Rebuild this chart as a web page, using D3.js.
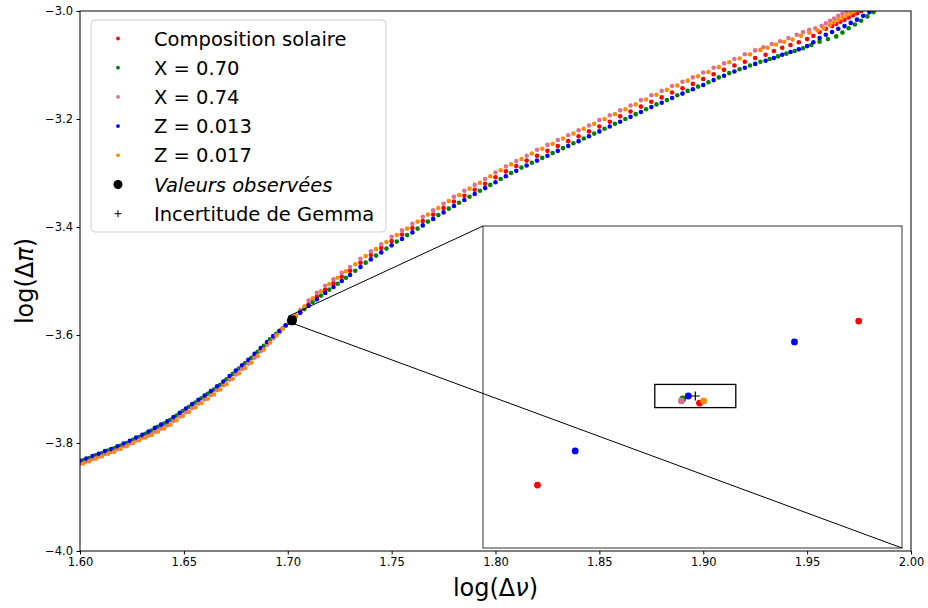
<!DOCTYPE html>
<html>
<head>
<meta charset="utf-8">
<script src="https://cdn.jsdelivr.net/npm/d3@7"></script>
<style>
  body { margin: 0; background: #fff; }
  text { font-family: "DejaVu Sans", sans-serif; }
</style>
</head>
<body>
<svg id="chart" width="928" height="608"></svg>
<script>
// Evolutionary tracks: [log(Δν), log(ΔΠ)] for each model grid
const solarPts = [
  [1.600,-3.837],[1.603,-3.833],[1.606,-3.828],[1.609,-3.824],[1.612,-3.819],[1.615,-3.815],[1.618,-3.810],
  [1.621,-3.805],[1.624,-3.800],[1.627,-3.794],[1.630,-3.789],[1.633,-3.784],[1.636,-3.777],[1.639,-3.771],
  [1.642,-3.765],[1.645,-3.757],[1.648,-3.749],[1.651,-3.741],[1.654,-3.733],[1.657,-3.725],[1.660,-3.717],
  [1.663,-3.709],[1.666,-3.700],[1.669,-3.691],[1.672,-3.681],[1.675,-3.671],[1.678,-3.661],[1.681,-3.651],
  [1.684,-3.640],[1.687,-3.628],[1.690,-3.617],[1.693,-3.605],[1.696,-3.594],[1.699,-3.583],
  [1.70089,-3.57707],[1.70205,-3.57325],[1.70319,-3.56943],
  [1.706,-3.558],[1.710,-3.543],[1.714,-3.529],[1.718,-3.516],[1.722,-3.504],[1.726,-3.492],[1.730,-3.481],
  [1.735,-3.466],[1.740,-3.452],[1.745,-3.439],[1.750,-3.426],[1.755,-3.414],[1.760,-3.402],[1.765,-3.389],
  [1.770,-3.377],[1.775,-3.365],[1.780,-3.353],[1.785,-3.342],[1.790,-3.331],[1.795,-3.320],[1.800,-3.308],
  [1.805,-3.297],[1.810,-3.287],[1.815,-3.277],[1.820,-3.268],[1.825,-3.259],[1.830,-3.250],[1.835,-3.241],
  [1.840,-3.232],[1.845,-3.223],[1.850,-3.214],[1.855,-3.205],[1.860,-3.195],[1.865,-3.186],[1.870,-3.177],
  [1.875,-3.168],[1.880,-3.160],[1.885,-3.151],[1.890,-3.143],[1.895,-3.135],[1.900,-3.126],[1.905,-3.117],
  [1.910,-3.109],[1.915,-3.101],[1.920,-3.094],[1.925,-3.087],[1.930,-3.081],
  [1.934,-3.074],[1.938,-3.068],[1.942,-3.063],[1.946,-3.058],[1.950,-3.052],[1.953,-3.046],[1.956,-3.039],
  [1.959,-3.033],[1.962,-3.028],[1.964,-3.024],[1.966,-3.020],[1.968,-3.016],[1.970,-3.012],[1.972,-3.008],
  [1.974,-3.004],[1.976,-3.000]
];

const x070Pts = [
  [1.6015,-3.832],[1.6045,-3.828],[1.6075,-3.823],[1.6105,-3.819],[1.6135,-3.814],[1.6165,-3.810],[1.6195,-3.805],
  [1.6225,-3.800],[1.6255,-3.794],[1.6285,-3.789],[1.6315,-3.783],[1.6345,-3.777],[1.6375,-3.770],[1.6405,-3.764],
  [1.6435,-3.757],[1.6465,-3.749],[1.6495,-3.741],[1.6525,-3.733],[1.6555,-3.725],[1.6585,-3.717],[1.6615,-3.709],
  [1.6645,-3.701],[1.6675,-3.692],[1.6705,-3.682],[1.6735,-3.672],[1.6765,-3.662],[1.6795,-3.652],[1.6825,-3.642],
  [1.6855,-3.631],[1.6885,-3.620],[1.6915,-3.608],[1.6945,-3.598],[1.6975,-3.588],
  [1.70193,-3.57306],
  [1.704,-3.565],[1.708,-3.552],[1.712,-3.539],[1.716,-3.527],[1.720,-3.516],[1.724,-3.505],[1.728,-3.494],
  [1.7325,-3.481],[1.7375,-3.466],[1.7425,-3.453],[1.7475,-3.440],[1.7525,-3.427],[1.7575,-3.415],[1.7625,-3.403],
  [1.7675,-3.390],[1.7725,-3.378],[1.7775,-3.366],[1.7825,-3.355],[1.7875,-3.344],[1.7925,-3.333],[1.7975,-3.322],
  [1.8025,-3.311],[1.8075,-3.300],[1.8125,-3.290],[1.8175,-3.281],[1.8225,-3.272],[1.8275,-3.263],[1.8325,-3.254],
  [1.8375,-3.245],[1.8425,-3.236],[1.8475,-3.227],[1.8525,-3.218],[1.8575,-3.209],[1.8625,-3.200],[1.8675,-3.191],
  [1.8725,-3.182],[1.8775,-3.173],[1.8825,-3.165],[1.8875,-3.156],[1.8925,-3.148],[1.8975,-3.140],[1.9025,-3.132],
  [1.9075,-3.123],[1.9125,-3.115],[1.9175,-3.108],[1.9225,-3.101],[1.9275,-3.094],
  [1.932,-3.089],[1.936,-3.084],[1.940,-3.079],[1.944,-3.074],[1.948,-3.069],[1.952,-3.063],[1.956,-3.057],
  [1.960,-3.052],[1.964,-3.047],[1.967,-3.040],[1.970,-3.032],[1.973,-3.025],[1.976,-3.018],[1.979,-3.010],
  [1.982,-3.002]
];

const x074Pts = [
  [1.600,-3.838],[1.603,-3.834],[1.606,-3.829],[1.609,-3.825],[1.612,-3.820],[1.615,-3.816],[1.618,-3.811],
  [1.621,-3.806],[1.624,-3.801],[1.627,-3.795],[1.630,-3.790],[1.633,-3.786],[1.636,-3.779],[1.639,-3.773],
  [1.642,-3.767],[1.645,-3.759],[1.648,-3.751],[1.651,-3.743],[1.654,-3.735],[1.657,-3.727],[1.660,-3.719],
  [1.663,-3.711],[1.666,-3.702],[1.669,-3.693],[1.672,-3.683],[1.675,-3.673],[1.678,-3.663],[1.681,-3.653],
  [1.684,-3.642],[1.687,-3.630],[1.690,-3.618],[1.693,-3.606],[1.696,-3.595],[1.699,-3.583],
  [1.70192,-3.57315],
  [1.706,-3.554],[1.710,-3.536],[1.714,-3.522],[1.718,-3.509],[1.722,-3.497],[1.726,-3.485],[1.730,-3.474],
  [1.735,-3.459],[1.740,-3.445],[1.745,-3.432],[1.750,-3.418],[1.755,-3.406],[1.760,-3.394],[1.765,-3.381],
  [1.770,-3.369],[1.775,-3.357],[1.780,-3.344],[1.785,-3.333],[1.790,-3.322],[1.795,-3.311],[1.800,-3.299],
  [1.805,-3.288],[1.810,-3.278],[1.815,-3.268],[1.820,-3.257],[1.825,-3.248],[1.830,-3.239],[1.835,-3.230],
  [1.840,-3.221],[1.845,-3.212],[1.850,-3.202],[1.855,-3.193],[1.860,-3.184],[1.865,-3.175],[1.870,-3.165],
  [1.875,-3.156],[1.880,-3.148],[1.885,-3.139],[1.890,-3.131],[1.895,-3.123],[1.900,-3.114],[1.905,-3.105],
  [1.910,-3.097],[1.915,-3.089],[1.920,-3.080],[1.925,-3.073],
  [1.929,-3.067],[1.933,-3.061],[1.937,-3.056],[1.941,-3.050],[1.945,-3.044],[1.948,-3.039],[1.951,-3.035],
  [1.954,-3.032],[1.957,-3.028],[1.959,-3.023],[1.961,-3.018],[1.963,-3.014],[1.965,-3.009],[1.967,-3.005],
  [1.969,-3.001]
];

const z013Pts = [
  [1.600,-3.833],[1.603,-3.829],[1.606,-3.824],[1.609,-3.820],[1.612,-3.815],[1.615,-3.811],[1.618,-3.806],
  [1.621,-3.801],[1.624,-3.796],[1.627,-3.790],[1.630,-3.785],[1.633,-3.779],[1.636,-3.772],[1.639,-3.766],
  [1.642,-3.760],[1.645,-3.752],[1.648,-3.744],[1.651,-3.736],[1.654,-3.728],[1.657,-3.720],[1.660,-3.712],
  [1.663,-3.704],[1.666,-3.695],[1.669,-3.686],[1.672,-3.676],[1.675,-3.666],[1.678,-3.656],[1.681,-3.646],
  [1.684,-3.635],[1.687,-3.624],[1.690,-3.613],[1.693,-3.602],[1.696,-3.592],[1.699,-3.582],
  [1.70116,-3.57548],[1.70197,-3.57292],[1.70273,-3.57040],
  [1.706,-3.559],[1.710,-3.546],[1.714,-3.534],[1.718,-3.522],[1.722,-3.511],[1.726,-3.500],[1.730,-3.489],
  [1.735,-3.474],[1.740,-3.460],[1.745,-3.447],[1.750,-3.434],[1.755,-3.422],[1.760,-3.410],[1.765,-3.397],
  [1.770,-3.385],[1.775,-3.373],[1.780,-3.361],[1.785,-3.350],[1.790,-3.339],[1.795,-3.328],[1.800,-3.317],
  [1.805,-3.306],[1.810,-3.296],[1.815,-3.286],[1.820,-3.277],[1.825,-3.268],[1.830,-3.259],[1.835,-3.250],
  [1.840,-3.241],[1.845,-3.232],[1.850,-3.223],[1.855,-3.214],[1.860,-3.205],[1.865,-3.196],[1.870,-3.187],
  [1.875,-3.178],[1.880,-3.170],[1.885,-3.161],[1.890,-3.153],[1.895,-3.145],[1.900,-3.137],[1.905,-3.128],
  [1.910,-3.120],[1.915,-3.112],[1.920,-3.105],[1.925,-3.098],[1.930,-3.092],
  [1.934,-3.087],[1.938,-3.081],[1.942,-3.076],[1.946,-3.071],[1.950,-3.065],[1.953,-3.058],[1.956,-3.050],
  [1.959,-3.044],[1.962,-3.039],[1.965,-3.033],[1.968,-3.028],[1.971,-3.022],[1.974,-3.016],[1.977,-3.009],
  [1.980,-3.002]
];

const z017Pts = [
  [1.6015,-3.838],[1.6045,-3.834],[1.6075,-3.829],[1.6105,-3.825],[1.6135,-3.820],[1.6165,-3.816],[1.6195,-3.811],
  [1.6225,-3.806],[1.6255,-3.800],[1.6285,-3.795],[1.6315,-3.790],[1.6345,-3.785],[1.6375,-3.779],[1.6405,-3.773],
  [1.6435,-3.766],[1.6465,-3.758],[1.6495,-3.750],[1.6525,-3.742],[1.6555,-3.734],[1.6585,-3.726],[1.6615,-3.718],
  [1.6645,-3.710],[1.6675,-3.701],[1.6705,-3.691],[1.6735,-3.681],[1.6765,-3.671],[1.6795,-3.661],[1.6825,-3.651],
  [1.6855,-3.639],[1.6885,-3.627],[1.6915,-3.614],[1.6945,-3.601],[1.6975,-3.589],
  [1.70208,-3.57315],
  [1.704,-3.564],[1.708,-3.547],[1.712,-3.532],[1.716,-3.519],[1.720,-3.506],[1.724,-3.494],[1.728,-3.482],
  [1.7325,-3.469],[1.7375,-3.454],[1.7425,-3.441],[1.7475,-3.428],[1.7525,-3.415],[1.7575,-3.403],[1.7625,-3.390],
  [1.7675,-3.377],[1.7725,-3.365],[1.7775,-3.352],[1.7825,-3.341],[1.7875,-3.329],[1.7925,-3.318],[1.7975,-3.306],
  [1.8025,-3.295],[1.8075,-3.284],[1.8125,-3.274],[1.8175,-3.264],[1.8225,-3.255],[1.8275,-3.246],[1.8325,-3.236],
  [1.8375,-3.227],[1.8425,-3.218],[1.8475,-3.209],[1.8525,-3.200],[1.8575,-3.191],[1.8625,-3.182],[1.8675,-3.173],
  [1.8725,-3.164],[1.8775,-3.155],[1.8825,-3.146],[1.8875,-3.138],[1.8925,-3.129],[1.8975,-3.121],[1.9025,-3.113],
  [1.9075,-3.104],[1.9125,-3.095],[1.9175,-3.088],[1.9225,-3.080],[1.9275,-3.072],
  [1.931,-3.068],[1.935,-3.062],[1.939,-3.057],[1.943,-3.053],[1.947,-3.046],[1.951,-3.040],[1.955,-3.036],
  [1.958,-3.032],[1.961,-3.026],[1.963,-3.021],[1.965,-3.016],[1.967,-3.012],[1.969,-3.008],[1.971,-3.004],
  [1.973,-3.000]
];

// Observed values and Gemma's uncertainty (half-widths)
const observed = [1.70202, -3.57292];
const gemmaErr = [0.00029, 0.00054];

// Axes
const xDomain = [1.6, 2.0];
const yDomain = [-4.0, -3.0];
const xTicks = [1.60, 1.65, 1.70, 1.75, 1.80, 1.85, 1.90, 1.95, 2.00];
const yTicks = [-4.0, -3.8, -3.6, -3.4, -3.2, -3.0];

// Zoomed window shown in the inset
const insetXDomain = [1.7005, 1.7035];
const insetYDomain = [-3.580, -3.565];

const seriesLabels = ["Composition solaire", "X = 0.70", "X = 0.74", "Z = 0.013", "Z = 0.017"];
const seriesColors = ["#ff0000", "#008000", "#db7093", "#0000ff", "#ff8c00"];
const seriesData = [solarPts, x070Pts, x074Pts, z013Pts, z017Pts];

const svg = d3.select("#chart");
const plot = { left: 80, top: 11, right: 911, bottom: 551 };

const x = d3.scaleLinear().domain(xDomain).range([plot.left, plot.right]);
const y = d3.scaleLinear().domain(yDomain).range([plot.bottom, plot.top]);

svg.append("rect").attr("width", 928).attr("height", 608).attr("fill", "#fff");

svg.append("defs").append("clipPath").attr("id", "plotClip")
  .append("rect")
  .attr("x", plot.left).attr("y", plot.top)
  .attr("width", plot.right - plot.left).attr("height", plot.bottom - plot.top);

// Model tracks
const tracks = svg.append("g").attr("clip-path", "url(#plotClip)");
seriesData.forEach((pts, i) => {
  tracks.append("g").selectAll("circle").data(pts).join("circle")
    .attr("cx", d => x(d[0])).attr("cy", d => y(d[1]))
    .attr("r", 2.3).attr("fill", seriesColors[i]);
});

// Inset box and its window in the main axes
const inset = { left: 483, top: 226, right: 902, bottom: 548 };
const xi = d3.scaleLinear().domain(insetXDomain).range([inset.left, inset.right]);
const yi = d3.scaleLinear().domain(insetYDomain).range([inset.bottom, inset.top]);

svg.append("rect")
  .attr("x", x(insetXDomain[0])).attr("y", y(insetYDomain[1]))
  .attr("width", x(insetXDomain[1]) - x(insetXDomain[0]))
  .attr("height", y(insetYDomain[0]) - y(insetYDomain[1]))
  .attr("fill", "none").attr("stroke", "#000").attr("stroke-width", 1);

// Observed point in the main axes
svg.append("circle")
  .attr("cx", x(observed[0])).attr("cy", y(observed[1]))
  .attr("r", 5).attr("fill", "#000");

// Inset contents
svg.append("defs").append("clipPath").attr("id", "insetClip")
  .append("rect")
  .attr("x", inset.left).attr("y", inset.top)
  .attr("width", inset.right - inset.left).attr("height", inset.bottom - inset.top);

svg.append("rect")
  .attr("x", inset.left).attr("y", inset.top)
  .attr("width", inset.right - inset.left).attr("height", inset.bottom - inset.top)
  .attr("fill", "#fff");

const insetG = svg.append("g").attr("clip-path", "url(#insetClip)");
seriesData.forEach((pts, i) => {
  insetG.append("g").selectAll("circle").data(pts).join("circle")
    .attr("cx", d => xi(d[0])).attr("cy", d => yi(d[1]))
    .attr("r", 3.4).attr("fill", seriesColors[i]);
});

// Uncertainty box and observed value (+) in the inset
insetG.append("rect")
  .attr("x", xi(observed[0] - gemmaErr[0])).attr("y", yi(observed[1] + gemmaErr[1]))
  .attr("width", xi(observed[0] + gemmaErr[0]) - xi(observed[0] - gemmaErr[0]))
  .attr("height", yi(observed[1] - gemmaErr[1]) - yi(observed[1] + gemmaErr[1]))
  .attr("fill", "none").attr("stroke", "#000").attr("stroke-width", 1.3);

const px = xi(observed[0]), py = yi(observed[1]);
insetG.append("path")
  .attr("d", `M${px - 4.5},${py}H${px + 4.5}M${px},${py - 4.5}V${py + 4.5}`)
  .attr("stroke", "#000").attr("stroke-width", 1.2);

svg.append("rect")
  .attr("x", inset.left).attr("y", inset.top)
  .attr("width", inset.right - inset.left).attr("height", inset.bottom - inset.top)
  .attr("fill", "none").attr("stroke", "#333").attr("stroke-width", 1);

// Connector lines between the zoom window and the inset
svg.append("line")
  .attr("x1", x(insetXDomain[0])).attr("y1", y(insetYDomain[1]))
  .attr("x2", inset.left).attr("y2", inset.top)
  .attr("stroke", "#000").attr("stroke-width", 1);
svg.append("line")
  .attr("x1", x(insetXDomain[1])).attr("y1", y(insetYDomain[0]))
  .attr("x2", inset.right).attr("y2", inset.bottom)
  .attr("stroke", "#000").attr("stroke-width", 1);

// Frame
svg.append("rect")
  .attr("x", plot.left).attr("y", plot.top)
  .attr("width", plot.right - plot.left).attr("height", plot.bottom - plot.top)
  .attr("fill", "none").attr("stroke", "#000").attr("stroke-width", 1);

// Axes
const xAxis = svg.append("g").attr("transform", `translate(0,${plot.bottom})`)
  .call(d3.axisBottom(x).tickValues(xTicks).tickFormat(d3.format(".2f")).tickSize(3.5).tickPadding(3.5));
const yAxis = svg.append("g").attr("transform", `translate(${plot.left},0)`)
  .call(d3.axisLeft(y).tickValues(yTicks).tickFormat(d3.format(".1f")).tickSize(3.5).tickPadding(3.5));
[xAxis, yAxis].forEach(a => {
  a.select(".domain").remove();
  a.selectAll("text").attr("font-size", 11.5).attr("fill", "#000")
    .style("font-family", "'DejaVu Sans', sans-serif");
  a.selectAll("line").attr("stroke", "#000");
});

// Axis titles
const xl = svg.append("text").attr("x", (plot.left + plot.right) / 2).attr("y", 596)
  .attr("text-anchor", "middle").attr("font-size", 24);
xl.append("tspan").text("log(Δ");
xl.append("tspan").attr("font-style", "italic").text("ν");
xl.append("tspan").text(")");

const yl = svg.append("text")
  .attr("transform", `translate(33,${(plot.top + plot.bottom) / 2}) rotate(-90)`)
  .attr("text-anchor", "middle").attr("font-size", 24);
yl.append("tspan").text("log(Δ");
yl.append("tspan").attr("font-style", "italic").text("π");
yl.append("tspan").text(")");

// Legend
const legend = svg.append("g");
legend.append("rect")
  .attr("x", 91).attr("y", 20).attr("width", 295).attr("height", 212).attr("rx", 4)
  .attr("fill", "#fff").attr("fill-opacity", 0.8)
  .attr("stroke", "#d0d0d0").attr("stroke-width", 1);

const rowY = i => 38.5 + i * 29.2;
seriesLabels.forEach((lab, i) => {
  legend.append("circle").attr("cx", 118).attr("cy", rowY(i)).attr("r", 1.9).attr("fill", seriesColors[i]);
  legend.append("text").attr("x", 154).attr("y", rowY(i) + 7).attr("font-size", 19.5).text(lab);
});
legend.append("circle").attr("cx", 118).attr("cy", rowY(5)).attr("r", 4.5).attr("fill", "#000");
legend.append("text").attr("x", 154).attr("y", rowY(5) + 7).attr("font-size", 19.5)
  .attr("font-style", "italic").text("Valeurs observées");
legend.append("path")
  .attr("d", `M114.5,${rowY(6)}H121.5M118,${rowY(6) - 3.5}V${rowY(6) + 3.5}`)
  .attr("stroke", "#000").attr("stroke-width", 1);
legend.append("text").attr("x", 154).attr("y", rowY(6) + 7).attr("font-size", 19.5).text("Incertitude de Gemma");
</script>
</body>
</html>
